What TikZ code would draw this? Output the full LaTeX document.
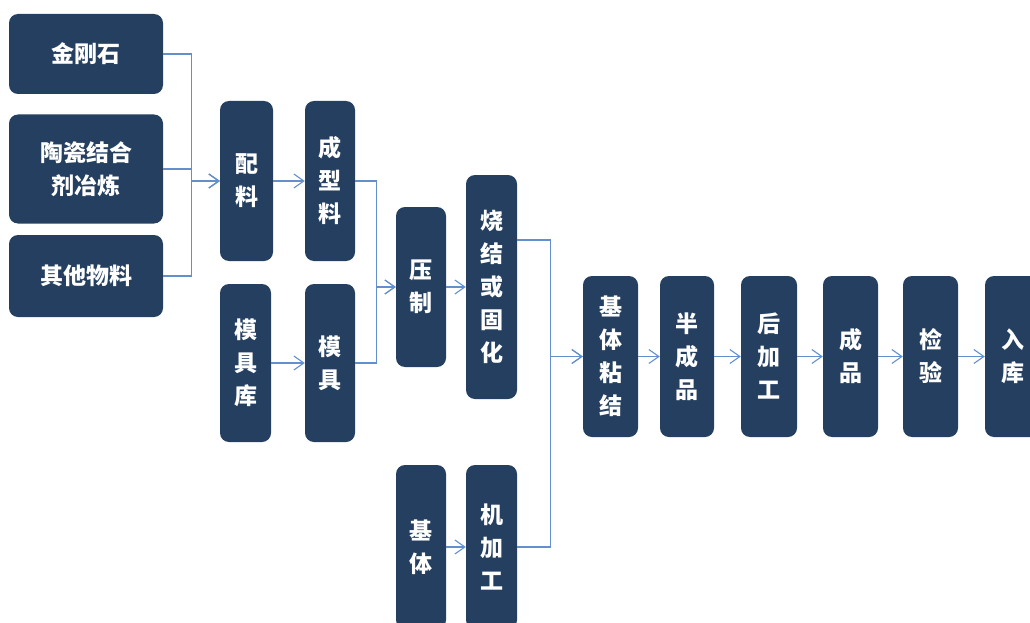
\documentclass[tikz,border=0pt]{standalone}
\usepackage{fontspec}
\usepackage{xcolor}
\usetikzlibrary{arrows.meta, positioning, calc}
\newfontfamily\cjk{Noto Sans CJK SC}
\definecolor{boxnavy}{HTML}{243F60}
\definecolor{linkblue}{HTML}{6390CC}

\begin{document}
\begin{tikzpicture}[x=1pt, y=-1pt,
    stepbox/.style={rectangle, rounded corners=9pt, fill=boxnavy, draw=none,
        text=white, inner sep=0pt, align=center,
        font=\cjk\bfseries\fontsize{23}{33}\selectfont},
    link/.style={draw=linkblue, line width=1.1pt},
    flow/.style={link, -{Straight Barb[length=10pt, width=14pt, line width=1.1pt]}}]
    \useasboundingbox (0,0) rectangle (1030,623);
    \clip (0,0) rectangle (1030,623);

    % raw materials
    \node[stepbox, minimum width=154pt, minimum height=80pt]  (jgs) at (86,54)  {金刚石};
    \node[stepbox, minimum width=154pt, minimum height=109pt] (tc)  at (86,169) {陶瓷结合\\剂冶炼};
    \node[stepbox, minimum width=154pt, minimum height=82pt]  (qt)  at (86,276) {其他物料};

    % mixing and moulding
    \node[stepbox, minimum width=53pt, minimum height=160pt] (pl)  at (246.5,181) {配\\料};
    \node[stepbox, minimum width=50pt, minimum height=160pt] (cxl) at (330,181)   {成\\型\\料};
    \node[stepbox, minimum width=51pt, minimum height=158pt] (mjk) at (245.5,363) {模\\具\\库};
    \node[stepbox, minimum width=50pt, minimum height=158pt] (mj)  at (330,363)   {模\\具};

    % pressing, sintering, body
    \node[stepbox, minimum width=50pt, minimum height=160pt] (yz)  at (421,287)   {压\\制};
    \node[stepbox, minimum width=51pt, minimum height=224pt] (sj)  at (491.5,287) {烧\\结\\或\\固\\化};
    \node[stepbox, minimum width=50pt, minimum height=164pt] (jt)  at (421,547)   {基\\体};
    \node[stepbox, minimum width=51pt, minimum height=164pt] (jjg) at (491.5,547) {机\\加\\工};

    % finishing chain
    \node[stepbox, minimum width=55pt, minimum height=161pt] (jtnj) at (610.5,356.5) {基\\体\\粘\\结};
    \node[stepbox, minimum width=54pt, minimum height=161pt] (bcp)  at (687,356.5)   {半\\成\\品};
    \node[stepbox, minimum width=56pt, minimum height=161pt] (hjg)  at (769,356.5)   {后\\加\\工};
    \node[stepbox, minimum width=55pt, minimum height=161pt] (cp)   at (850.5,356.5) {成\\品};
    \node[stepbox, minimum width=55pt, minimum height=161pt] (jy)   at (930.5,356.5) {检\\验};
    \node[stepbox, minimum width=55pt, minimum height=161pt] (rk)   at (1012.5,356.5) {入\\库};

    % connectors
    \draw[flow] (jgs.east) -- ++(28,0) |- (pl.west);
    \draw[flow] (tc.east) -- ++(28,0) |- (pl.west);
    \draw[flow] (qt.east) -- ++(28,0) |- (pl.west);
    \draw[flow] (pl) -- (cxl);
    \draw[flow] (mjk) -- (mj);
    \draw[flow] (cxl.east) -- ++(21,0) |- (yz.west);
    \draw[flow] (mj.east) -- ++(21,0) |- (yz.west);
    \draw[flow] (yz) -- (sj);
    \draw[flow] (jt) -- (jjg);
    \draw[flow] ($(sj.east)+(0,-47)$) -- ++(33,0) |- (jtnj.west);
    \draw[flow] (jjg.east) -- ++(33,0) |- (jtnj.west);
    \draw[flow] (jtnj) -- (bcp);
    \draw[flow] (bcp) -- (hjg);
    \draw[flow] (hjg) -- (cp);
    \draw[flow] (cp) -- (jy);
    \draw[flow] (jy) -- (rk);
\end{tikzpicture}
\end{document}
